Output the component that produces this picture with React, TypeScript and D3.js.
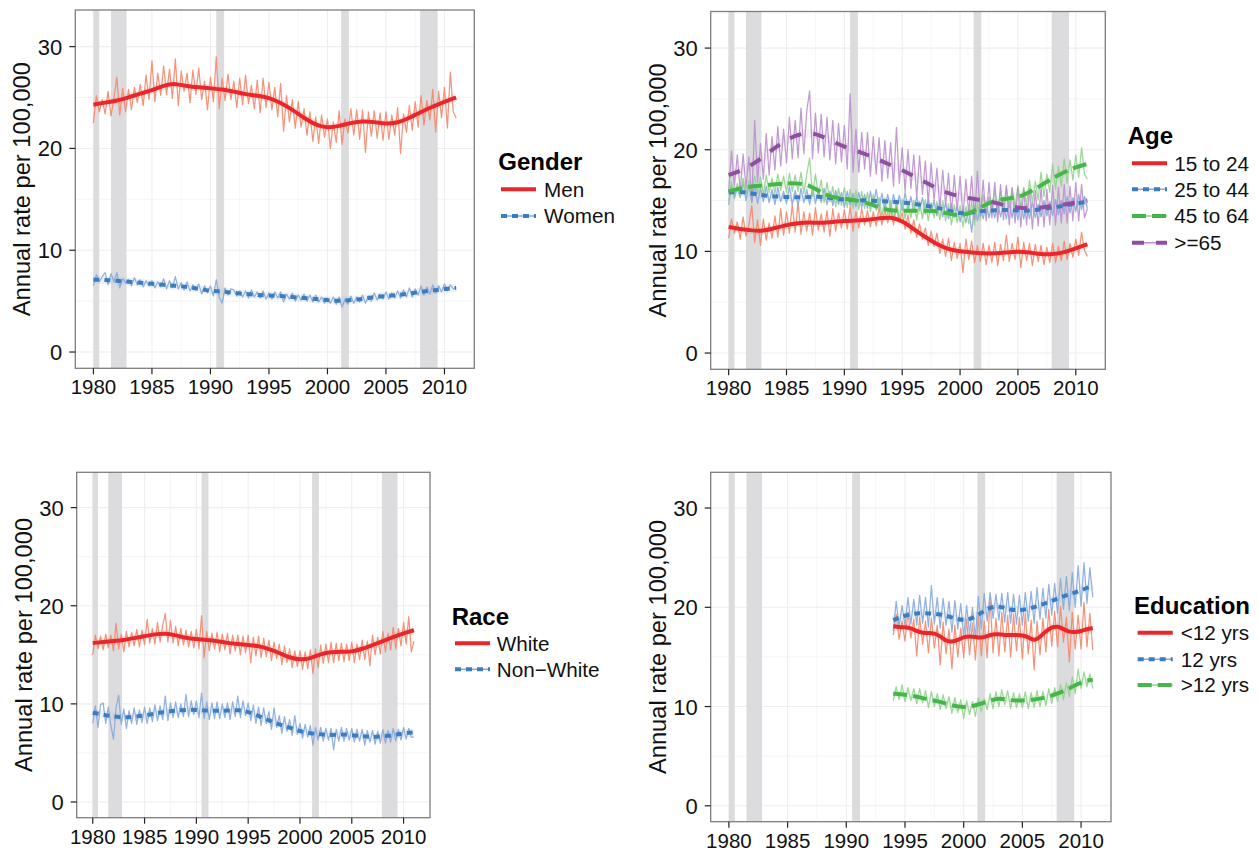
import React from 'react';
import * as d3 from 'd3';

// time positions (quarterly thin series, smoothed trends)
const quarterly80 = d3.range(0, 125).map(i => 1980 + i / 4);
const quarterly94 = d3.range(0, 69).map(i => 1994 + i / 4);
const yearly80 = d3.range(1980, 2012);
const yearly94 = d3.range(1994, 2012);
const halfYearly94 = d3.range(0, 35).map(i => 1994 + i / 2);

const xTicks = [1980, 1985, 1990, 1995, 2000, 2005, 2010];
const xTickLabels = ['1980', '1985', '1990', '1995', '2000', '2005', '2010'];
const yTicks = [0, 10, 20, 30];
const yTickLabels = ['0', '10', '20', '30'];

// NBER recessions
const recessions = [
  [1980.0, 1980.5],
  [1981.5, 1982.83],
  [1990.5, 1991.17],
  [2001.17, 2001.83],
  [2007.92, 2009.42],
];

// ---- Gender ----
const menRaw = [
  22.5, 25.2, 23.6, 24.8, 23.4, 25.6, 23.2, 24.9, 27.0, 23.3, 25.9, 23.6,
  25.8, 23.8, 26.0, 24.5, 26.3, 24.2, 27.2, 24.8, 28.6, 24.6, 27.4, 25.2,
  28.1, 25.3, 27.8, 24.9, 28.8, 24.2, 27.6, 25.6, 27.4, 24.5, 27.7, 25.3,
  27.9, 24.8, 26.6, 23.8, 27.0, 24.6, 29.0, 23.9, 26.9, 24.7, 27.3, 24.8,
  26.6, 24.0, 26.9, 24.3, 27.2, 24.4, 26.2, 23.9, 26.7, 23.5, 26.9, 24.0,
  26.5, 23.8, 26.0, 23.1, 26.4, 21.7, 25.2, 22.6, 24.8, 22.0, 24.6, 22.1,
  23.9, 21.3, 23.6, 20.7, 23.1, 20.5, 23.3, 21.1, 22.9, 20.0, 22.6, 20.6,
  23.7, 20.4, 22.9, 21.5, 23.9, 21.3, 23.8, 20.9, 23.8, 19.6, 23.6, 21.2,
  23.7, 21.0, 23.5, 20.8, 23.6, 20.9, 23.3, 21.3, 24.0, 19.5, 23.4, 21.6,
  24.2, 21.8, 24.6, 22.1, 25.2, 22.3, 24.7, 22.8, 25.8, 21.6, 25.6, 23.0,
  26.0, 22.0, 27.5, 23.6, 23.0,
];
const menTrend = [
  24.3, 24.5, 24.7, 25.0, 25.4, 25.7, 26.2, 26.4, 26.1, 26.0,
  25.9, 25.8, 25.6, 25.3, 25.2, 25.0, 24.5, 23.8, 23.0, 22.3,
  22.0, 22.2, 22.5, 22.7, 22.6, 22.4, 22.5, 23.0, 23.6, 24.1,
  24.6, 25.0,
];
const womenRaw = [
  6.5, 7.6, 6.9, 7.4, 7.8, 6.6, 7.7, 6.9, 7.8, 6.3, 7.2, 6.8,
  7.1, 6.5, 7.3, 6.6, 7.1, 6.4, 7.0, 6.5, 7.0, 6.3, 6.9, 6.4,
  7.2, 6.2, 7.0, 6.3, 7.4, 6.2, 6.8, 6.1, 6.9, 6.0, 6.6, 6.1,
  6.7, 5.7, 6.5, 5.8, 6.5, 5.5, 7.1, 5.4, 4.8, 6.3, 5.6, 6.2,
  6.1, 5.5, 6.0, 5.4, 6.0, 5.3, 6.1, 5.4, 5.9, 5.3, 6.0, 5.2,
  5.8, 5.2, 5.9, 5.3, 5.9, 4.9, 5.7, 5.2, 5.8, 5.0, 5.6, 5.1,
  5.7, 5.0, 5.6, 4.9, 5.6, 4.9, 5.4, 4.8, 5.3, 4.8, 5.4, 4.7,
  5.4, 4.4, 5.2, 4.7, 5.5, 4.8, 5.4, 4.9, 5.6, 4.8, 5.5, 5.0,
  5.8, 5.1, 5.7, 5.2, 5.9, 5.2, 5.8, 5.3, 6.0, 5.3, 6.1, 5.4,
  6.3, 5.4, 6.2, 5.6, 6.5, 5.6, 6.4, 5.7, 6.6, 5.8, 6.5, 5.9,
  6.7, 6.0, 6.6, 6.2, 6.4,
];
const womenTrend = [
  7.1, 7.1, 7.0, 6.9, 6.8, 6.7, 6.6, 6.5, 6.4, 6.2,
  6.0, 5.95, 5.8, 5.7, 5.6, 5.55, 5.5, 5.4, 5.3, 5.2,
  5.1, 5.0, 5.1, 5.2, 5.4, 5.5, 5.6, 5.75, 5.9, 6.05,
  6.2, 6.3,
];

// ---- Age ----
const age1524Raw = [
  11.3, 13.2, 11.8, 12.9, 11.2, 13.4, 11.5, 12.6, 14.5, 10.9, 13.1, 10.6,
  13.2, 11.1, 12.8, 11.3, 13.5, 11.4, 14.2, 11.6, 13.9, 11.8, 14.6, 11.9,
  14.8, 11.7, 13.9, 12.0, 13.8, 11.6, 14.3, 12.1, 13.7, 11.9, 14.0, 11.5,
  14.2, 12.0, 13.8, 12.3, 14.1, 12.2, 14.4, 12.0, 13.9, 12.3, 14.2, 12.6,
  14.0, 12.4, 13.9, 12.5, 14.3, 12.6, 14.1, 12.8, 14.2, 12.6, 14.5, 12.9,
  13.8, 12.2, 13.6, 11.8, 13.1, 11.4, 12.7, 11.2, 12.3, 10.6, 12.0, 10.5,
  11.8, 9.8, 11.2, 9.5, 11.3, 9.1, 10.9, 9.3, 10.8, 7.9, 11.2, 9.2,
  11.0, 8.9, 10.6, 9.0, 10.8, 8.7, 10.6, 8.9, 10.9, 8.6, 10.7, 9.1,
  11.6, 9.0, 10.8, 9.2, 11.4, 8.4, 10.9, 9.1, 10.8, 8.6, 10.7, 9.0,
  10.6, 8.7, 10.4, 8.9, 10.8, 8.9, 10.5, 9.1, 11.0, 9.2, 10.8, 9.4,
  11.2, 9.6, 11.9, 10.1, 9.5,
];
const age1524Trend = [
  12.4, 12.2, 12.05, 12.0, 12.3, 12.6, 12.8, 12.85, 12.8, 12.9,
  13.0, 13.05, 13.1, 13.25, 13.4, 13.0, 12.2, 11.4, 10.7, 10.2,
  10.0, 9.9, 9.8, 9.8, 9.9, 10.0, 9.9, 9.7, 9.7, 9.9,
  10.3, 10.7,
];
const age2544Raw = [
  14.6, 16.5, 15.2, 16.3, 15.3, 16.8, 15.0, 16.6, 14.8, 16.6, 14.7, 16.2,
  14.9, 16.4, 14.8, 16.1, 14.6, 16.3, 14.9, 15.9, 14.7, 16.4, 14.6, 16.0,
  14.5, 16.2, 14.8, 16.1, 14.6, 16.3, 14.7, 16.0, 14.8, 16.2, 14.6, 15.9,
  14.5, 16.0, 14.6, 15.8, 14.3, 15.9, 14.5, 15.7, 14.4, 15.8, 14.3, 15.6,
  14.2, 15.9, 14.4, 16.1, 14.3, 15.7, 14.2, 15.6, 14.1, 15.6, 14.3, 15.5,
  14.0, 15.8, 14.1, 15.4, 13.9, 15.4, 14.0, 15.3, 13.7, 15.2, 13.8, 15.0,
  13.5, 14.9, 13.4, 14.8, 13.2, 14.7, 13.3, 14.5, 12.9, 14.3, 12.8, 14.2,
  11.9, 14.5, 13.0, 14.4, 13.2, 14.9, 13.3, 14.6, 13.3, 14.8, 13.4, 14.7,
  13.2, 14.9, 13.3, 14.8, 13.1, 14.8, 13.2, 14.7, 13.2, 14.9, 13.3, 14.6,
  13.4, 15.0, 13.5, 14.9, 13.5, 15.1, 13.6, 15.0, 13.7, 15.4, 13.8, 15.3,
  13.9, 15.6, 14.1, 15.4, 14.2,
];
const age2544Trend = [
  15.8, 15.9, 15.7, 15.5, 15.4, 15.35, 15.3, 15.35, 15.4, 15.2,
  15.1, 15.05, 15.0, 14.95, 14.9, 14.8, 14.7, 14.5, 14.3, 14.0,
  13.7, 13.8, 14.0, 14.05, 14.1, 14.0, 14.0, 14.15, 14.3, 14.5,
  14.7, 14.9,
];
const age4564Raw = [
  15.0, 16.9, 15.3, 16.7, 15.4, 17.2, 15.6, 17.0, 15.5, 17.4, 15.7, 17.3,
  15.6, 17.5, 15.8, 17.2, 15.7, 17.6, 16.0, 17.4, 15.8, 17.7, 15.9, 17.5,
  15.9, 17.8, 15.7, 17.6, 19.2, 15.4, 17.6, 15.6, 17.0, 14.8, 16.8, 14.9,
  16.4, 14.4, 16.2, 14.5, 16.3, 14.3, 16.1, 14.2, 16.0, 14.1, 15.9, 14.2,
  15.8, 13.9, 15.6, 14.0, 15.3, 13.4, 15.2, 13.6, 15.0, 13.1, 14.9, 13.2,
  15.1, 13.2, 14.8, 13.3, 15.0, 13.1, 14.9, 13.2, 15.1, 13.0, 14.8, 13.3,
  14.9, 13.1, 15.0, 13.0, 14.7, 12.6, 14.6, 12.8, 14.5, 12.4, 14.4, 12.7,
  14.9, 12.6, 14.8, 13.1, 15.6, 13.5, 15.4, 13.8, 16.1, 14.0, 15.9, 14.2,
  16.3, 14.3, 16.2, 14.4, 16.5, 14.4, 16.3, 14.6, 17.0, 14.8, 16.9, 15.1,
  17.8, 15.4, 17.6, 15.8, 18.6, 16.1, 18.4, 16.4, 19.1, 16.7, 19.0, 17.0,
  19.5, 17.3, 20.2, 17.6, 17.1,
];
const age4564Trend = [
  15.9, 16.2, 16.4, 16.5, 16.6, 16.7, 16.7, 16.5, 15.8, 15.3,
  15.2, 15.0, 14.8, 14.3, 14.0, 14.0, 14.0, 14.0, 14.0, 13.7,
  13.5, 13.8, 14.5, 15.0, 15.2, 15.3, 15.8, 16.5, 17.2, 17.8,
  18.3, 18.6,
];
const age65Raw = [
  15.8, 19.9, 16.4, 19.5, 15.9, 19.6, 16.2, 19.3, 14.9, 22.9, 16.8, 20.6,
  17.1, 21.6, 17.5, 21.3, 18.0, 22.3, 18.4, 22.0, 18.7, 23.2, 19.1, 22.9,
  19.2, 24.1, 19.6, 23.8, 25.8, 19.1, 23.6, 19.7, 23.5, 19.3, 23.2, 19.0,
  22.9, 18.6, 22.6, 18.8, 22.4, 18.1, 25.5, 17.8, 22.0, 17.8, 21.7, 18.1,
  21.7, 17.4, 21.3, 17.6, 21.2, 16.9, 20.9, 17.2, 20.7, 16.4, 22.2, 16.7,
  20.2, 15.9, 20.0, 16.2, 19.5, 15.3, 19.4, 15.6, 18.9, 14.7, 18.7, 15.0,
  18.2, 14.2, 18.0, 14.5, 17.7, 13.7, 17.5, 14.0, 17.4, 13.4, 17.1, 13.7,
  17.4, 13.2, 17.9, 13.5, 17.0, 13.0, 16.8, 13.3, 16.8, 12.9, 16.6, 13.1,
  16.5, 12.6, 16.3, 12.8, 16.3, 12.4, 16.1, 12.6, 16.2, 12.2, 16.0, 12.5,
  16.3, 12.4, 16.1, 12.6, 16.5, 12.6, 16.3, 12.8, 16.6, 12.8, 16.4, 13.0,
  16.8, 13.0, 16.6, 13.3, 14.2,
];
const age65Trend = [
  17.5, 17.9, 18.5, 19.3, 20.2, 21.0, 21.5, 21.7, 21.4, 20.8,
  20.3, 19.9, 19.5, 19.0, 18.5, 18.0, 17.4, 16.8, 16.2, 15.7,
  15.4, 15.2, 15.0, 14.8, 14.5, 14.3, 14.2, 14.3, 14.5, 14.6,
  14.8, 15.0,
];

// ---- Race ----
const whiteRaw = [
  15.0, 17.0, 15.6, 16.9, 15.5, 17.1, 15.7, 17.0, 15.4, 18.2, 15.6, 17.1,
  15.3, 17.4, 15.8, 17.3, 15.9, 17.6, 15.8, 17.5, 16.0, 18.6, 16.2, 17.7,
  16.1, 18.3, 16.3, 18.0, 19.2, 16.3, 18.5, 16.2, 17.9, 15.9, 17.7, 16.0,
  17.5, 15.8, 17.4, 15.7, 17.6, 15.6, 19.0, 14.7, 17.4, 15.4, 17.2, 15.6,
  17.3, 15.3, 17.1, 15.5, 17.2, 15.1, 17.0, 15.4, 17.0, 15.0, 16.9, 15.2,
  17.0, 14.2, 16.8, 14.9, 16.9, 14.7, 16.7, 14.8, 16.5, 14.4, 16.3, 14.6,
  16.1, 14.0, 15.9, 14.2, 15.6, 13.7, 15.4, 13.8, 15.4, 13.5, 15.3, 13.6,
  15.5, 13.1, 15.6, 13.7, 16.0, 14.1, 16.1, 14.2, 16.3, 14.2, 16.2, 14.4,
  16.2, 14.3, 16.1, 14.4, 16.3, 14.2, 16.1, 14.5, 16.5, 14.5, 16.4, 13.9,
  17.0, 15.0, 16.8, 15.1, 17.4, 15.3, 17.2, 15.5, 17.8, 15.6, 17.7, 15.9,
  18.3, 16.1, 18.9, 15.3, 16.4,
];
const whiteTrend = [
  16.2, 16.3, 16.4, 16.5, 16.7, 16.9, 17.1, 17.2, 17.0, 16.7,
  16.6, 16.5, 16.4, 16.2, 16.1, 16.0, 15.9, 15.6, 15.2, 14.7,
  14.5, 14.6, 15.1, 15.3, 15.3, 15.3, 15.6, 16.0, 16.4, 16.8,
  17.2, 17.5,
];
const nonWhiteRaw = [
  8.0, 9.8, 7.6, 9.9, 10.1, 8.0, 9.7, 7.8, 6.4, 9.6, 10.9, 7.9,
  9.5, 7.5, 9.3, 8.0, 9.6, 7.9, 9.4, 8.1, 9.7, 8.0, 9.6, 8.2,
  9.9, 8.3, 9.8, 8.4, 10.8, 8.3, 10.1, 8.6, 10.2, 8.6, 10.0, 8.7,
  11.0, 8.7, 10.3, 8.9, 10.3, 8.6, 11.1, 8.5, 10.2, 8.4, 10.1, 8.5,
  10.2, 8.5, 10.0, 8.6, 10.1, 8.4, 10.2, 8.7, 10.8, 8.6, 10.3, 8.8,
  10.1, 8.3, 9.9, 8.0, 9.7, 7.8, 9.6, 8.0, 9.2, 7.4, 9.6, 7.6,
  8.8, 7.0, 8.7, 7.2, 8.4, 6.8, 8.8, 6.9, 8.0, 6.5, 7.9, 6.6,
  7.8, 5.8, 7.6, 6.3, 7.6, 6.2, 7.5, 6.3, 7.5, 5.3, 7.4, 6.2,
  7.6, 6.2, 7.5, 6.3, 7.5, 6.1, 7.4, 6.2, 7.4, 5.8, 7.3, 6.1,
  7.3, 5.9, 7.2, 6.0, 7.4, 6.0, 7.3, 6.1, 7.5, 6.2, 7.4, 6.3,
  7.6, 6.4, 7.5, 6.6, 6.6,
];
const nonWhiteTrend = [
  9.1, 8.9, 8.7, 8.6, 8.7, 8.8, 9.0, 9.2, 9.3, 9.4,
  9.4, 9.3, 9.3, 9.3, 9.4, 9.2, 8.8, 8.3, 7.9, 7.6,
  7.2, 7.0, 6.9, 6.8, 6.9, 6.8, 6.7, 6.6, 6.7, 6.8,
  7.0, 7.1,
];

// ---- Education (from 1994) ----
const edLowRaw = [
  17.2, 19.3, 16.8, 18.6, 16.6, 19.5, 16.9, 18.8, 15.1, 19.0, 16.3, 18.6,
  15.4, 18.9, 15.9, 18.2, 14.2, 18.5, 15.3, 17.8, 13.8, 18.2, 15.0, 17.9,
  14.9, 18.8, 15.2, 18.4, 14.7, 19.2, 15.1, 18.6, 14.9, 21.0, 15.4, 18.9,
  15.1, 19.5, 15.5, 19.2, 15.0, 19.3, 15.6, 19.0, 14.8, 19.4, 15.3, 18.7,
  13.7, 18.6, 15.2, 18.9, 15.5, 19.8, 16.1, 19.6, 16.0, 20.1, 16.5, 19.0,
  14.5, 19.5, 15.8, 19.2, 15.8, 20.5, 16.0, 19.4, 15.7,
];
const edLowTrend = [
  18.1, 18.0, 18.0, 17.9, 17.6, 17.4, 17.4, 17.4, 17.1, 16.6,
  16.5, 16.7, 17.0, 17.1, 17.0, 16.9, 17.1, 17.3, 17.3, 17.2,
  17.2, 17.2, 17.2, 17.0, 16.6, 17.0, 17.6, 18.0, 18.1, 17.8,
  17.5, 17.5, 17.6, 17.8, 17.9,
];
const edMidRaw = [
  17.6, 20.6, 18.0, 20.2, 18.1, 21.0, 18.3, 20.8, 18.2, 21.2, 18.4, 21.0,
  18.0, 22.2, 18.3, 21.0, 17.9, 20.9, 18.2, 20.6, 17.5, 20.7, 17.8, 20.4,
  17.0, 20.2, 17.3, 20.0, 16.9, 21.1, 17.8, 21.4, 18.6, 21.5, 18.9, 21.3,
  18.7, 21.4, 18.5, 21.5, 18.4, 21.3, 18.3, 21.2, 18.2, 21.5, 18.6, 21.6,
  18.4, 22.0, 18.8, 21.9, 18.9, 22.3, 19.2, 22.4, 19.4, 22.9, 19.8, 23.1,
  19.7, 23.5, 20.0, 24.2, 20.1, 24.5, 20.4, 24.0, 21.0,
];
const edMidTrend = [
  18.7, 19.2, 19.4, 19.4, 19.3, 19.0, 18.6, 19.0, 19.9, 20.2,
  19.7, 19.7, 20.0, 20.4, 20.9, 21.3, 21.7, 22.2,
];
const edHighRaw = [
  10.6, 12.0, 10.7, 12.2, 10.5, 11.9, 10.6, 11.8, 10.3, 11.8, 10.4, 11.6,
  9.9, 11.5, 10.0, 11.3, 9.7, 11.2, 9.8, 11.0, 9.3, 10.9, 9.4, 10.7,
  8.8, 10.6, 9.2, 10.5, 9.0, 10.9, 9.5, 10.8, 9.7, 11.3, 9.8, 11.5,
  10.0, 11.7, 10.2, 11.6, 9.8, 11.4, 9.9, 11.3, 9.9, 11.5, 9.8, 11.4,
  9.9, 11.6, 10.0, 11.5, 10.1, 11.8, 10.3, 11.9, 10.5, 12.2, 10.7, 12.4,
  11.0, 13.0, 11.3, 13.8, 11.8, 13.5, 12.0, 13.3, 11.8,
];
const edHighTrend = [
  11.3, 11.2, 11.0, 10.7, 10.5, 10.1, 9.9, 10.1, 10.5, 10.9,
  10.6, 10.6, 10.7, 10.9, 11.3, 11.8, 12.5, 12.7,
];

// ---- styles ----
const FONT = '"Liberation Sans", Arial, Helvetica, sans-serif';
const X_DOMAIN: [number, number] = [1978.45, 2012.55];
const Y_DOMAIN: [number, number] = [-1.6, 33.6];
const STYLES = [
  { line: '#e8262b', thin: '#f3876b', dash: undefined },
  { line: '#3b7dc0', thin: '#86a9d9', dash: '6,5' },
  { line: '#45b649', thin: '#93d18f', dash: '14,6' },
  { line: '#8f4fa0', thin: '#b98fcc', dash: '12,12' },
];

type Series = { name: string; rawX: number[]; raw: number[]; trendX: number[]; trend: number[] };
type PanelCfg = {
  title: string;
  box: { left: number; right: number; top: number; bottom: number };
  legend: { titleX: number; titleY: number; keyX: number; textX: number; rows: number[] };
  series: Series[];
};

const panels: PanelCfg[] = [
  {
    title: 'Gender',
    box: { left: 75.3, right: 474.3, top: 10, bottom: 368.3 },
    legend: { titleX: 498.3, titleY: 161.7, keyX: 501, textX: 544, rows: [189.3, 216] },
    series: [
      { name: 'Men', rawX: quarterly80, raw: menRaw, trendX: yearly80, trend: menTrend },
      { name: 'Women', rawX: quarterly80, raw: womenRaw, trendX: yearly80, trend: womenTrend },
    ],
  },
  {
    title: 'Age',
    box: { left: 710.7, right: 1105.3, top: 11.5, bottom: 369.3 },
    legend: { titleX: 1127.7, titleY: 135, keyX: 1132, textX: 1174.3, rows: [163.3, 189.3, 216, 242.7] },
    series: [
      { name: '15 to 24', rawX: quarterly80, raw: age1524Raw, trendX: yearly80, trend: age1524Trend },
      { name: '25 to 44', rawX: quarterly80, raw: age2544Raw, trendX: yearly80, trend: age2544Trend },
      { name: '45 to 64', rawX: quarterly80, raw: age4564Raw, trendX: yearly80, trend: age4564Trend },
      { name: '>=65', rawX: quarterly80, raw: age65Raw, trendX: yearly80, trend: age65Trend },
    ],
  },
  {
    title: 'Race',
    box: { left: 76.7, right: 430, top: 472.3, bottom: 817.7 },
    legend: { titleX: 451.7, titleY: 616.7, keyX: 455, textX: 496.7, rows: [643.3, 669.3] },
    series: [
      { name: 'White', rawX: quarterly80, raw: whiteRaw, trendX: yearly80, trend: whiteTrend },
      { name: 'Non\u2212White', rawX: quarterly80, raw: nonWhiteRaw, trendX: yearly80, trend: nonWhiteTrend },
    ],
  },
  {
    title: 'Education',
    box: { left: 710.7, right: 1111, top: 472.3, bottom: 821.7 },
    legend: { titleX: 1134, titleY: 605, keyX: 1137.7, textX: 1180.7, rows: [632.7, 659.3, 685] },
    series: [
      { name: '<12 yrs', rawX: quarterly94, raw: edLowRaw, trendX: halfYearly94, trend: edLowTrend },
      { name: '12 yrs', rawX: quarterly94, raw: edMidRaw, trendX: yearly94, trend: edMidTrend },
      { name: '>12 yrs', rawX: quarterly94, raw: edHighRaw, trendX: yearly94, trend: edHighTrend },
    ],
  },
];

function Panel({ p }: { p: PanelCfg }) {
  const { left, right, top, bottom } = p.box;
  const x = d3.scaleLinear().domain(X_DOMAIN).range([left, right]);
  const y = d3.scaleLinear().domain(Y_DOMAIN).range([bottom, top]);
  const mk = (xs: number[], ys: number[], curve: d3.CurveFactory) =>
    d3.line<number>()
      .x((_, i) => x(xs[i]))
      .y(d => y(d))
      .curve(curve)(ys) || '';

  const xMinor = d3.range(1977.5, 2013, 5).filter(v => v > X_DOMAIN[0] && v < X_DOMAIN[1]);
  const yMinor = [5, 15, 25];

  return (
    <g>
      <rect x={left} y={top} width={right - left} height={bottom - top} fill="#fff" />
      {xMinor.map(v => (
        <line key={'xm' + v} x1={x(v)} x2={x(v)} y1={top} y2={bottom} stroke="#f6f6f6" strokeWidth={1} />
      ))}
      {yMinor.map(v => (
        <line key={'ym' + v} x1={left} x2={right} y1={y(v)} y2={y(v)} stroke="#f4f4f4" strokeWidth={1} />
      ))}
      {xTicks.map(v => (
        <line key={'xg' + v} x1={x(v)} x2={x(v)} y1={top} y2={bottom} stroke="#eeeeee" strokeWidth={1.1} />
      ))}
      {yTicks.map(v => (
        <line key={'yg' + v} x1={left} x2={right} y1={y(v)} y2={y(v)} stroke="#eeeeee" strokeWidth={1.1} />
      ))}
      {recessions.map(([a, b]) => (
        <rect key={'r' + a} x={x(a)} y={top} width={x(b) - x(a)} height={bottom - top} fill="#dcdcde" />
      ))}
      {p.series.map((s, i) => (
        <path key={'t' + i} d={mk(s.rawX, s.raw, d3.curveLinear)} fill="none"
          stroke={STYLES[i].thin} strokeWidth={1.25} strokeOpacity={0.9} strokeLinejoin="round" />
      ))}
      {p.series.map((s, i) => (
        <path key={'rb' + i} d={mk(s.trendX, s.trend, d3.curveBasis)} fill="none"
          stroke={STYLES[i].thin} strokeWidth={8} strokeOpacity={0.14} />
      ))}
      {p.series.map((s, i) => (
        <path key={'s' + i} d={mk(s.trendX, s.trend, d3.curveBasis)} fill="none"
          stroke={STYLES[i].line} strokeWidth={4} strokeDasharray={STYLES[i].dash} />
      ))}
      <rect x={left} y={top} width={right - left} height={bottom - top} fill="none" stroke="#7f7f7f" strokeWidth={1.3} />
      {yTicks.map((v, i) => (
        <g key={'yt' + v}>
          <line x1={left - 6} x2={left} y1={y(v)} y2={y(v)} stroke="#222" strokeWidth={1.2} />
          <text x={left - 13} y={y(v) + 8} textAnchor="end" fontSize={22} fill="#111">{yTickLabels[i]}</text>
        </g>
      ))}
      {xTicks.map((v, i) => (
        <g key={'xt' + v}>
          <line x1={x(v)} x2={x(v)} y1={bottom} y2={bottom + 6} stroke="#222" strokeWidth={1.2} />
          <text x={x(v)} y={bottom + 26} textAnchor="middle" fontSize={20.5} fill="#111">{xTickLabels[i]}</text>
        </g>
      ))}
      <text transform={`translate(${left - 45},${(top + bottom) / 2}) rotate(-90)`} textAnchor="middle"
        fontSize={23.7} fill="#111">Annual rate per 100,000</text>
      <text x={p.legend.titleX} y={p.legend.titleY + 8.6} fontSize={24} fontWeight="bold" fill="#000">{p.title}</text>
      {p.series.map((s, i) => {
        const ry = p.legend.rows[i];
        return (
          <g key={'lg' + i}>
            <line x1={p.legend.keyX} x2={p.legend.keyX + 35} y1={ry} y2={ry} stroke={STYLES[i].thin} strokeWidth={1.5} />
            <line x1={p.legend.keyX} x2={p.legend.keyX + 35} y1={ry} y2={ry} stroke={STYLES[i].line}
              strokeWidth={4} strokeDasharray={STYLES[i].dash} />
            <text x={p.legend.textX} y={ry + 7.4} fontSize={20.7} fill="#111">{s.name}</text>
          </g>
        );
      })}
    </g>
  );
}

export default function App() {
  return (
    <svg width={1259} height={851} style={{ position: 'absolute', left: 0, top: 0, background: '#fff' }}
      fontFamily={FONT}>
      <rect width={1259} height={851} fill="#fff" />
      {panels.map(p => <Panel key={p.title} p={p} />)}
    </svg>
  );
}
